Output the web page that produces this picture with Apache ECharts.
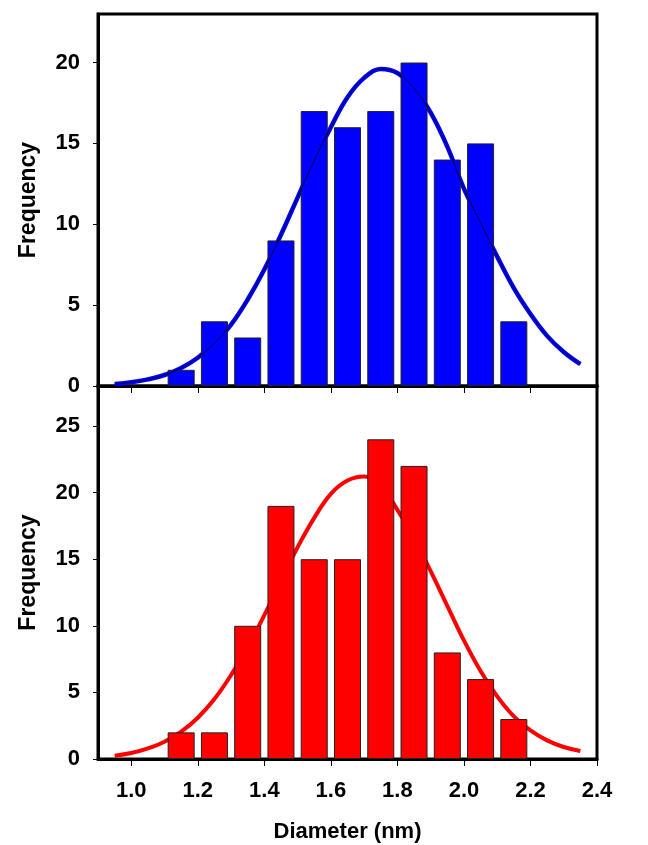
<!DOCTYPE html>
<html>
<head>
<meta charset="utf-8">
<script src="https://cdn.jsdelivr.net/npm/echarts@6/dist/echarts.min.js"></script>
<style>
html,body{margin:0;padding:0;background:#fff;}
#chart{width:648px;height:845px;}
</style>
</head>
<body>
<div id="chart"></div>
<script>
// Histogram bin centres (nm)
var binCenters = [1.15, 1.25, 1.35, 1.45, 1.55, 1.65, 1.75, 1.85, 1.95, 2.05, 2.15];
// Top panel (blue) counts
var topCounts = [1, 4, 3, 9, 17, 16, 17, 20, 14, 15, 4];
// Bottom panel (red) counts
var bottomCounts = [2, 2, 10, 19, 15, 15, 24, 22, 8, 6, 3];
// Fitted curve sample positions (nm)
var fitX = [0.95, 1.00, 1.05, 1.10, 1.15, 1.20, 1.25, 1.30, 1.35, 1.40, 1.45, 1.50, 1.55, 1.60, 1.65, 1.70, 1.75, 1.80, 1.85, 1.90, 1.95, 2.00, 2.05, 2.10, 2.15, 2.20, 2.25, 2.30, 2.35];
// Fitted curve values
var topFit = [0.12, 0.23, 0.41, 0.68, 1.12, 1.75, 2.65, 3.8, 5.35, 7.2, 9.35, 11.65, 13.95, 16.0, 17.85, 19.05, 19.6, 19.35, 18.4, 16.9, 14.8, 12.2, 10.1, 8.0, 6.05, 4.45, 3.1, 2.1, 1.35];
var bottomFit = [0.25, 0.45, 0.8, 1.3, 2.05, 3.1, 4.5, 6.3, 8.4, 10.8, 13.4, 15.9, 18.1, 19.9, 20.9, 21.2, 20.5, 18.7, 16.6, 14.1, 11.5, 8.9, 6.6, 4.7, 3.2, 2.15, 1.4, 0.9, 0.6];
// Tick labels
var xTicks = [1.0, 1.2, 1.4, 1.6, 1.8, 2.0, 2.2, 2.4];
var topYTicks = [0, 5, 10, 15, 20];
var bottomYTicks = [0, 5, 10, 15, 20, 25];
var xTitle = 'Diameter (nm)';
var yTitle = 'Frequency';

function pairs(xs, ys) { return xs.map(function (x, i) { return [x, ys[i]]; }); }

var FONT = '"Liberation Sans", Arial, sans-serif';
var labelStyle = { fontFamily: FONT, fontWeight: 'bold', fontSize: 22, color: '#000' };

var chart = echarts.init(document.getElementById('chart'), null, { renderer: 'canvas' });

function xAxisCfg(gridIndex, showLabels) {
  return {
    type: 'value', gridIndex: gridIndex, min: 0.9, max: 2.4,
    splitLine: { show: false },
    axisLine: { show: true, onZero: false, lineStyle: { color: '#000', width: 3 } },
    axisTick: { show: true, inside: false, length: 7, customValues: xTicks, lineStyle: { color: '#000', width: 1 } },
    axisLabel: Object.assign({ show: showLabels, margin: 21, customValues: xTicks,
      formatter: function (v) { return Number(v).toFixed(1); } }, labelStyle),
    name: showLabels ? xTitle : '', nameLocation: 'middle', nameGap: 62,
    nameTextStyle: { fontFamily: FONT, fontWeight: 'bold', fontSize: 22, color: '#000' }
  };
}
function yAxisCfg(gridIndex, max, ticks) {
  return {
    type: 'value', gridIndex: gridIndex, min: 0, max: max,
    splitLine: { show: false },
    axisLine: { show: true, lineStyle: { color: '#000', width: 3 } },
    axisTick: { show: true, inside: false, length: 5, customValues: ticks, lineStyle: { color: '#000', width: 1 } },
    axisLabel: Object.assign({ margin: 18, customValues: ticks }, labelStyle),
    name: yTitle, nameLocation: 'middle', nameGap: 58, nameRotate: 90,
    nameTextStyle: { fontFamily: FONT, fontWeight: 'bold', fontSize: 23, color: '#000' }
  };
}

chart.setOption({
  animation: false,
  backgroundColor: '#fff',
  grid: [
    { left: 98, right: 51, top: 14, height: 372, show: true, borderColor: '#000', borderWidth: 3, backgroundColor: 'transparent' },
    { left: 98, right: 51, top: 386, height: 373, show: true, borderColor: '#000', borderWidth: 3, backgroundColor: 'transparent' }
  ],
  xAxis: [xAxisCfg(0, false), xAxisCfg(1, true)],
  yAxis: [yAxisCfg(0, 23, topYTicks), yAxisCfg(1, 28, bottomYTicks)],
  series: [
    { type: 'line', xAxisIndex: 0, yAxisIndex: 0, data: pairs(fitX, topFit), smooth: 0.4,
      showSymbol: false, z: 1, lineStyle: { color: '#0000FF', width: 4.5 } },
    { type: 'bar', xAxisIndex: 0, yAxisIndex: 0, data: pairs(binCenters, topCounts), barWidth: 27, z: 2,
      itemStyle: { color: '#0000FF', borderColor: '#222', borderWidth: 1 } },
    { type: 'line', xAxisIndex: 0, yAxisIndex: 0, data: pairs(fitX, topFit), smooth: 0.4,
      showSymbol: false, z: 3, lineStyle: { color: '#000040', width: 1 } },
    { type: 'line', xAxisIndex: 1, yAxisIndex: 1, data: pairs(fitX, bottomFit), smooth: 0.4,
      showSymbol: false, z: 1, lineStyle: { color: '#FF0000', width: 4 } },
    { type: 'bar', xAxisIndex: 1, yAxisIndex: 1, data: pairs(binCenters, bottomCounts), barWidth: 27, z: 2,
      itemStyle: { color: '#FF0000', borderColor: '#222', borderWidth: 1 } }
  ]
});
</script>
</body>
</html>
